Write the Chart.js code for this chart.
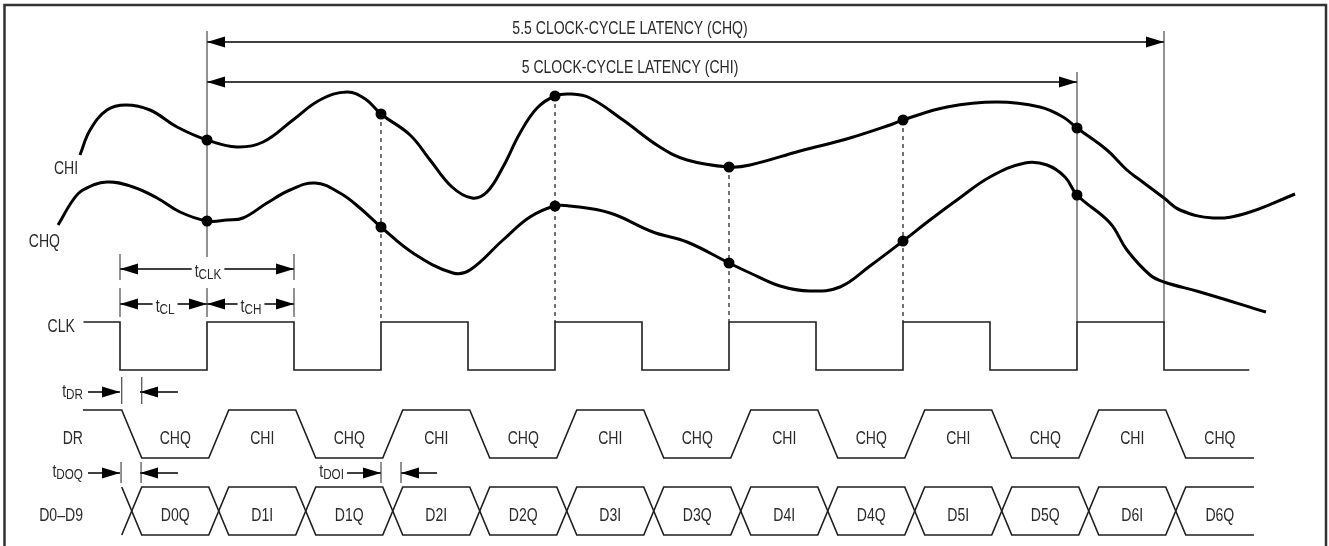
<!DOCTYPE html>
<html>
<head>
<meta charset="utf-8">
<title>CHI / CHQ output timing</title>
<script src="https://cdn.jsdelivr.net/npm/chart.js@4.4.1/dist/chart.umd.min.js"></script>
<style>
  html, body { margin: 0; padding: 0; background: #fff; }
  #wrap { width: 1329px; height: 546px; }
  canvas { display: block; }
</style>
</head>
<body>
<div id="wrap"><canvas id="timing" width="1329" height="546"></canvas></div>
<script>
// x = time in clock cycles (0 = first sampling edge), y = level (larger is lower on the page)

// analog inputs
const chiTime = [-0.730, -0.672, -0.575, -0.466, -0.328, -0.172, 0, 0.172, 0.322, 0.494, 0.649, 0.805, 0.910, 1,
  1.167, 1.282, 1.408, 1.523, 1.609, 1.701, 1.799, 1.897, 2, 2.086, 2.201, 2.391, 2.603, 2.759, 3, 3.121,
  3.408, 3.695, 3.925, 4, 4.253, 4.540, 4.787, 4.920, 5, 5.172, 5.287, 5.362, 5.5, 5.592, 5.782, 5.977, 6.253];
const chiLevel = [155, 130, 110, 105, 110, 127, 140, 147, 142, 120, 100, 92, 99, 114,
  135, 160, 187, 198, 192, 167, 133, 108, 96, 94, 98, 120, 147, 160, 167, 165,
  151, 138, 125, 120, 107, 102, 107, 117, 128, 150, 170, 180, 198, 210, 218, 213, 194];

const chqTime = [-0.856, -0.770, -0.713, -0.575, -0.425, -0.287, -0.155, 0, 0.115, 0.207, 0.345, 0.477, 0.621,
  0.764, 0.879, 1, 1.184, 1.414, 1.511, 1.701, 1.856, 2, 2.086, 2.316, 2.563, 2.759, 3, 3.121, 3.293, 3.466,
  3.638, 3.810, 4, 4.155, 4.310, 4.5, 4.701, 4.828, 4.931, 5, 5.190, 5.287, 5.420, 5.5, 5.707, 6.086];
const chqLevel = [225, 200, 190, 182, 187, 198, 212, 221, 220, 218, 203, 190, 183,
  193, 208, 227, 253, 273, 270, 240, 217, 206, 206, 213, 232, 242, 263, 273, 286, 291,
  287, 266, 241, 220, 200, 177, 163, 165, 177, 195, 223, 250, 275, 282, 292, 312];

// sampling instants (rising CLK edges) and sampled values
const sampleTime = [0, 1, 2, 3, 4, 5];
const chiSampled = [140, 114, 96, 167, 120, 128];
const chqSampled = [221, 227, 206, 263, 241, 195];

// clock
const clkTime = [-0.71, -0.5, 0, 0.5, 1, 1.5, 2, 2.5, 3, 3.5, 4, 4.5, 5, 5.5, 5.99];
const clkLevel = [322, 370, 322, 370, 322, 370, 322, 370, 322, 370, 322, 370, 322, 370, 370];

// DR and output bus: transition times and what each segment holds
const edgeTime = [-0.5, 0, 0.5, 1, 1.5, 2, 2.5, 3, 3.5, 4, 4.5, 5, 5.5];
const drStates = ["CHQ", "CHI", "CHQ", "CHI", "CHQ", "CHI", "CHQ", "CHI", "CHQ", "CHI", "CHQ", "CHI", "CHQ"];
const busWords = ["D0Q", "D1I", "D1Q", "D2I", "D2Q", "D3I", "D3Q", "D4I", "D4Q", "D5I", "D5Q", "D6I", "D6Q"];
const drLevel = { CHI: 410, CHQ: 458 };
const busLevels = [487, 535];
const traceStart = -0.713;
const traceEnd = 6.017;

// transition timing (cycles)
const tDelay = 0.01;
const tSlew = 0.115;

const INK = "#000";
const WIRE = "#1e1e1e";
const THIN = "#3a3a3a";
const TEXT = "#2a2a2a";
const SX = 0.78; // condensed lettering

function pts(xs, ys) {
  return xs.map((x, i) => ({ x, y: ys[i] }));
}

function buildDR() {
  let level = drLevel.CHI;
  const data = [{ x: traceStart, y: level }];
  edgeTime.forEach((t, i) => {
    data.push({ x: t + tDelay, y: level });
    level = drLevel[drStates[i]];
    data.push({ x: t + tDelay + tSlew, y: level });
  });
  data.push({ x: traceEnd, y: level });
  return data;
}

function buildBus(flip) {
  const data = [];
  let a = flip ? 1 : 0;
  edgeTime.forEach((t) => {
    data.push({ x: t + tDelay, y: busLevels[a] });
    a = 1 - a;
    data.push({ x: t + tDelay + tSlew, y: busLevels[a] });
  });
  data.push({ x: traceEnd, y: busLevels[a] });
  return data;
}

function segmentCenters() {
  return edgeTime.map((t, i) => {
    const start = t + tDelay + tSlew;
    const end = i + 1 < edgeTime.length ? edgeTime[i + 1] + tDelay : traceEnd;
    return (start + end) / 2;
  });
}

function vlines(list) {
  const data = [];
  list.forEach(([t, y0, y1]) => {
    data.push({ x: t, y: y0 }, { x: t, y: y1 }, { x: t, y: null });
  });
  return data;
}

// layout of the annotations
const refLines = [[0, 31, 257], [5, 72, 322], [5.5, 31, 322]];
const sampleLines = sampleTime.slice(1, 5).map((t, i) => [t, chiSampled[i + 1], 322]);
const tickLines = [
  [-0.5, 254, 280], [0.5, 254, 280],
  [-0.5, 288, 317], [0, 288, 317], [0.5, 288, 317],
  [-0.49, 377, 404], [-0.375, 377, 404],
  [-0.494, 462, 483], [-0.379, 462, 483],
  [1, 462, 483], [1.115, 462, 483]
];
const dims = [
  { from: 0, to: 5.5, y: 42, a: true, b: true },
  { from: 0, to: 5, y: 82, a: true, b: true },
  { from: -0.5, to: 0.5, y: 269, a: true, b: true },
  { from: -0.5, to: 0, y: 304, a: true, b: true },
  { from: 0, to: 0.5, y: 304, a: true, b: true },
  { from: -0.684, to: -0.5, y: 392, a: false, b: true },
  { from: -0.167, to: -0.385, y: 392, a: false, b: true },
  { from: -0.684, to: -0.5, y: 473, a: false, b: true },
  { from: -0.167, to: -0.385, y: 473, a: false, b: true },
  { from: 0.805, to: 1, y: 473, a: false, b: true },
  { from: 1.322, to: 1.115, y: 473, a: false, b: true }
];
const labels = [
  { text: "5.5 CLOCK-CYCLE LATENCY (CHQ)", t: 2.431, y: 34, align: "center" },
  { text: "5 CLOCK-CYCLE LATENCY (CHI)", t: 2.431, y: 73, align: "center" },
  { text: "CHI", t: -0.741, y: 174, align: "right" },
  { text: "CHQ", t: -0.845, y: 247, align: "right" },
  { text: "CLK", t: -0.759, y: 332, align: "right" },
  { text: "DR", t: -0.713, y: 444, align: "right" },
  { text: "D0\u2013D9", t: -0.713, y: 521, align: "right" },
  { text: "t", sub: "CLK", t: 0.006, y: 277, align: "center", knockout: true },
  { text: "t", sub: "CL", t: -0.241, y: 312, align: "center", knockout: true },
  { text: "t", sub: "CH", t: 0.253, y: 312, align: "center", knockout: true },
  { text: "t", sub: "DR", t: -0.713, y: 397, align: "right" },
  { text: "t", sub: "DOQ", t: -0.713, y: 477, align: "right" },
  { text: "t", sub: "DOI", t: 0.787, y: 477, align: "right" }
];

function drawText(ctx, str, x, y, size) {
  ctx.save();
  ctx.font = `${size}px "Liberation Sans", Arial, sans-serif`;
  ctx.translate(x, y);
  ctx.scale(SX, 1);
  ctx.textAlign = "left";
  ctx.textBaseline = "alphabetic";
  ctx.fillText(str, 0, 0);
  ctx.restore();
}

function textWidth(ctx, str, size) {
  ctx.save();
  ctx.font = `${size}px "Liberation Sans", Arial, sans-serif`;
  const w = ctx.measureText(str).width * SX;
  ctx.restore();
  return w;
}

const decor = {
  id: "decor",
  beforeDraw(chart) {
    const ctx = chart.ctx;
    ctx.save();
    ctx.fillStyle = "#fff";
    ctx.fillRect(0, 0, chart.width, chart.height);
    ctx.strokeStyle = "#333";
    ctx.lineWidth = 2.5;
    ctx.strokeRect(4.5, 5, 1321.5, 560);
    ctx.restore();
  },
  afterDatasetsDraw(chart) {
    const ctx = chart.ctx;
    const xs = chart.scales.x;
    const ys = chart.scales.y;

    // arrowheads
    ctx.save();
    ctx.fillStyle = INK;
    dims.forEach((d) => {
      const py = ys.getPixelForValue(d.y);
      const ends = [];
      if (d.a) ends.push([d.from, d.to]);
      if (d.b) ends.push([d.to, d.from]);
      ends.forEach(([tip, other]) => {
        const px = xs.getPixelForValue(tip);
        const dir = Math.sign(px - xs.getPixelForValue(other));
        const len = 18;
        const half = 5.5;
        ctx.beginPath();
        ctx.moveTo(px, py);
        ctx.lineTo(px - dir * len, py - half);
        ctx.lineTo(px - dir * len, py + half);
        ctx.closePath();
        ctx.fill();
      });
    });
    ctx.restore();

    // segment names on DR and bus
    const centers = segmentCenters();
    ctx.fillStyle = TEXT;
    centers.forEach((t, i) => {
      const x = xs.getPixelForValue(t);
      const w1 = textWidth(ctx, drStates[i], 18);
      drawText(ctx, drStates[i], x - w1 / 2, ys.getPixelForValue(444), 18);
      const w2 = textWidth(ctx, busWords[i], 18);
      drawText(ctx, busWords[i], x - w2 / 2, ys.getPixelForValue(521), 18);
    });

    // other labels
    labels.forEach((l) => {
      const x = xs.getPixelForValue(l.t);
      const y = ys.getPixelForValue(l.y);
      const wMain = textWidth(ctx, l.text, 18);
      const wSub = l.sub ? textWidth(ctx, l.sub, 15) : 0;
      const w = wMain + wSub;
      let left = x;
      if (l.align === "center") left = x - w / 2;
      if (l.align === "right") left = x - w;
      if (l.knockout) {
        ctx.fillStyle = "#fff";
        ctx.fillRect(left - 3, y - 16, w + 6, 22);
      }
      ctx.fillStyle = TEXT;
      drawText(ctx, l.text, left, y, 18);
      if (l.sub) drawText(ctx, l.sub, left + wMain, y + 2, 15);
    });
  }
};

const datasets = [
  { data: pts(sampleTime, chiSampled), showLine: false, pointRadius: 5.5, pointBackgroundColor: INK, pointBorderWidth: 0 },
  { data: pts(sampleTime, chqSampled), showLine: false, pointRadius: 5.5, pointBackgroundColor: INK, pointBorderWidth: 0 },
  { data: pts(chiTime, chiLevel), borderColor: INK, borderWidth: 3, tension: 0.4, pointRadius: 0 },
  { data: pts(chqTime, chqLevel), borderColor: INK, borderWidth: 3, tension: 0.4, pointRadius: 0 },
  { data: pts(clkTime, clkLevel), borderColor: WIRE, borderWidth: 1.6, stepped: true, pointRadius: 0 },
  { data: buildDR(), borderColor: WIRE, borderWidth: 1.6, pointRadius: 0 },
  { data: buildBus(false), borderColor: WIRE, borderWidth: 1.6, pointRadius: 0 },
  { data: buildBus(true), borderColor: WIRE, borderWidth: 1.6, pointRadius: 0 },
  { data: vlines(sampleLines), borderColor: "#1a1a1a", borderWidth: 1.2, borderDash: [4, 4], pointRadius: 0 },
  { data: vlines(refLines), borderColor: THIN, borderWidth: 1.1, pointRadius: 0 },
  { data: vlines(tickLines), borderColor: THIN, borderWidth: 1.1, pointRadius: 0 },
  {
    data: dims.flatMap((d) => [{ x: d.from, y: d.y }, { x: d.to, y: d.y }, { x: d.to, y: null }]),
    borderColor: INK, borderWidth: 1.4, pointRadius: 0
  }
];

new Chart(document.getElementById("timing"), {
  type: "line",
  data: { datasets },
  options: {
    responsive: false,
    animation: false,
    devicePixelRatio: 1,
    layout: { padding: 0, autoPadding: false },
    events: [],
    plugins: { legend: { display: false }, tooltip: { enabled: false } },
    scales: {
      x: { type: "linear", min: -207 / 174, max: 1122 / 174, display: false },
      y: { type: "linear", min: 0, max: 546, reverse: true, display: false }
    }
  },
  plugins: [decor]
});
</script>
</body>
</html>
